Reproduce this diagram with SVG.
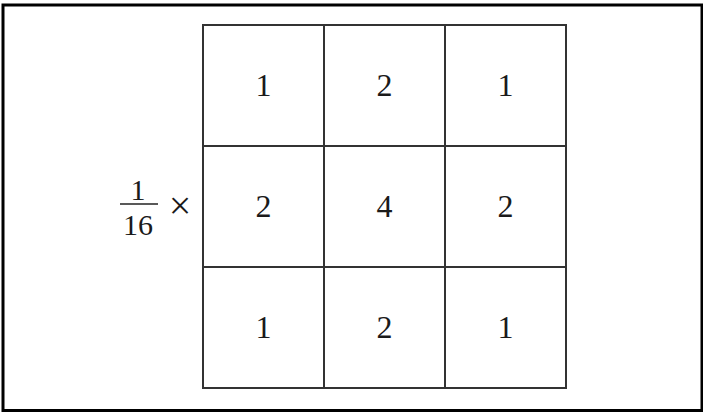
<svg xmlns="http://www.w3.org/2000/svg" width="703" height="413" viewBox="0 0 703 413">
<style>
.num{font-family:"Liberation Serif","Times New Roman",serif;font-size:32px;fill:#1a1a1a;text-anchor:middle}
.grid{fill:none;stroke:#333;stroke-width:2}
</style>
<rect x="0" y="0" width="703" height="413" fill="#fff"/>
<rect id="frame" x="3" y="5" width="699" height="405.5" fill="none" stroke="#000" stroke-width="3"/>
<g id="grid">
<rect class="grid" x="203" y="25" width="363" height="363"/>
<line class="grid" x1="324" y1="25" x2="324" y2="388"/>
<line class="grid" x1="445" y1="25" x2="445" y2="388"/>
<line class="grid" x1="203" y1="146" x2="566" y2="146"/>
<line class="grid" x1="203" y1="267" x2="566" y2="267"/>
</g>
<g id="cells">
<text class="num" x="263.5" y="96">1</text>
<text class="num" x="384.5" y="96">2</text>
<text class="num" x="505.5" y="96">1</text>
<text class="num" x="263.5" y="217">2</text>
<text class="num" x="384.5" y="217">4</text>
<text class="num" x="505.5" y="217">2</text>
<text class="num" x="263.5" y="338">1</text>
<text class="num" x="384.5" y="338">2</text>
<text class="num" x="505.5" y="338">1</text>
</g>
<g id="factor">
<text class="num" x="138" y="200" style="font-size:30px">1</text>
<line x1="120" y1="204" x2="158" y2="204" stroke="#222" stroke-width="1.6"/>
<text class="num" x="138" y="235" style="font-size:30px">16</text>
<text class="num" x="180" y="219" style="font-size:40px">×</text>
</g>
</svg>
